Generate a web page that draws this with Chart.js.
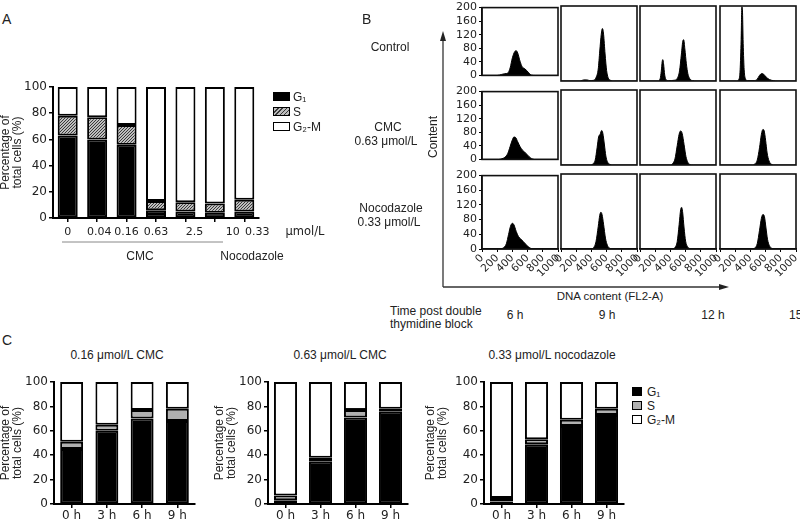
<!DOCTYPE html>
<html>
<head>
<meta charset="utf-8">
<script src="https://cdn.jsdelivr.net/npm/chart.js@4.4.0/dist/chart.umd.min.js"></script>
<style>
body { margin: 0; background: #fff; }
#page { position: relative; width: 800px; height: 523px; overflow: hidden; background: #fff;
        font-family: "Liberation Sans", Arial, sans-serif; color: #222; }
#page canvas { position: absolute; }
.t { position: absolute; white-space: nowrap; font-size: 12px; line-height: 1; }
.c { transform: translate(-50%, -50%); text-align: center; }
.box { position: absolute; border: 1.5px solid #000; box-sizing: border-box; }
</style>
</head>
<body>
<div id="page">
<svg width="800" height="523" style="position:absolute;left:0;top:0">
  <line x1="62" y1="242" x2="223" y2="242" stroke="#888" stroke-width="1"/>
  <line x1="443" y1="287" x2="443" y2="38" stroke="#333" stroke-width="1.3"/>
  <polygon points="443,31 440,41 446,41" fill="#222"/>
  <line x1="443" y1="287" x2="721" y2="287" stroke="#333" stroke-width="1.3"/>
  <polygon points="729,287 719,284 719,290" fill="#222"/>
</svg>
</div>
<script>
// ---- panel A: cell cycle distribution vs dose ----
var doseLabels = ['0', '0.04', '0.16', '0.63', '2.5', '10', '0.33'];
var doseG1  = [63, 60, 56, 6, 5, 4, 5];
var doseS   = [15, 17, 15, 7, 7, 7, 9];
var doseG2M = [22, 23, 29, 87, 88, 89, 86];

// ---- panel C: time course ----
var timeLabels = ['0 h', '3 h', '6 h', '9 h'];
var cmc016G1  = [45, 60, 70, 68];
var cmc016S   = [6, 5, 7, 10];
var cmc016G2M = [49, 35, 23, 22];
var cmc063G1  = [3, 35, 71, 76];
var cmc063S   = [4, 3, 6, 2];
var cmc063G2M = [93, 62, 23, 22];
var nocG1  = [2, 49, 64, 73];
var nocS   = [3, 4, 5, 5];
var nocG2M = [95, 47, 31, 22];

// ---- panel B: DNA content histograms [FL2-A, count] ----
var ctrl6h  = [[0,0],[200,0],[260,3],[300,5],[340,7],[370,22],[400,52],[430,70],[450,73],[470,66],[500,42],[530,25],[560,20],[590,14],[620,6],[650,1],[700,0],[1000,0]];
var ctrl9h  = [[0,0],[250,0],[300,3],[340,3],[380,1],[430,2],[460,9],[490,32],[510,80],[530,125],[545,140],[560,125],[580,72],[600,28],[620,9],[650,2],[700,0],[1000,0]];
var ctrl12h = [[0,0],[240,0],[265,6],[280,26],[292,52],[300,57],[310,46],[325,16],[345,3],[380,1],[450,2],[490,7],[520,27],[545,72],[565,108],[575,110],[590,86],[610,46],[630,19],[655,6],[690,1],[750,0],[1000,0]];
var ctrl15h = [[0,0],[220,0],[250,5],[265,30],[278,110],[288,198],[295,190],[305,100],[318,30],[335,6],[360,1],[450,1],[490,5],[520,15],[550,20],[575,18],[610,10],[650,4],[700,1],[750,0],[1000,0]];
var cmc6h   = [[0,0],[220,0],[260,2],[300,6],[340,18],[370,38],[400,58],[420,66],[440,65],[470,52],[500,38],[530,28],[560,22],[590,15],[620,8],[650,3],[690,0],[1000,0]];
var cmc9h   = [[0,0],[380,0],[420,3],[450,13],[475,46],[495,75],[515,82],[535,92],[550,85],[570,56],[590,24],[610,9],[640,2],[680,0],[1000,0]];
var cmc12h  = [[0,0],[400,0],[430,4],[460,16],[490,52],[515,82],[535,91],[555,84],[580,54],[605,22],[630,7],[660,1],[700,0],[1000,0]];
var cmc15h  = [[0,0],[430,0],[460,3],[490,13],[520,46],[545,82],[565,95],[580,92],[600,66],[620,32],[645,11],[670,3],[700,0],[1000,0]];
var noc6h   = [[0,0],[240,0],[280,3],[320,14],[350,40],[375,62],[400,70],[420,66],[450,48],[480,34],[510,27],[540,21],[570,14],[600,8],[630,3],[670,0],[1000,0]];
var noc9h   = [[0,0],[400,0],[430,4],[460,19],[490,60],[510,90],[525,98],[540,92],[560,66],[585,29],[610,10],[640,2],[680,0],[1000,0]];
var noc12h  = [[0,0],[430,0],[460,4],[490,20],[515,65],[535,105],[548,111],[560,100],[580,56],[600,21],[625,6],[660,1],[700,0],[1000,0]];
var noc15h  = [[0,0],[430,0],[460,3],[490,14],[520,50],[545,82],[565,92],[585,86],[605,56],[625,26],[650,9],[680,2],[710,0],[1000,0]];

var page = document.getElementById('page');
var numFont = { family: 'DejaVu Sans', size: 12 };
var txtFont = { family: 'Liberation Sans', size: 12, lineHeight: 1.0 };

function text(str, x, y, center, size) {
    var d = document.createElement('div');
    d.className = center ? 't c' : 't';
    d.textContent = str;
    d.style.left = x + 'px';
    d.style.top = y + 'px';
    if (size) d.style.fontSize = size + 'px';
    page.appendChild(d);
    return d;
}

function legendBox(x, y, w, h, bg) {
    var b = document.createElement('div');
    b.className = 'box';
    b.style.left = x + 'px'; b.style.top = y + 'px';
    b.style.width = w + 'px'; b.style.height = h + 'px';
    b.style.background = bg;
    page.appendChild(b);
}

function newCanvas(left, top, w, h) {
    var c = document.createElement('canvas');
    c.width = w; c.height = h;
    c.style.left = left + 'px'; c.style.top = top + 'px';
    c.style.width = w + 'px'; c.style.height = h + 'px';
    page.appendChild(c);
    return c;
}

function makeHatch() {
    var p = document.createElement('canvas');
    p.width = 3; p.height = 3;
    var c = p.getContext('2d');
    c.fillStyle = '#bdbdbd';
    c.fillRect(0, 0, 3, 3);
    c.strokeStyle = '#3a3a3a';
    c.lineWidth = 1;
    c.beginPath();
    c.moveTo(0, 3); c.lineTo(3, 0);
    c.moveTo(-1, 1); c.lineTo(1, -1);
    c.moveTo(2, 4); c.lineTo(4, 2);
    c.stroke();
    return c.createPattern(p, 'repeat');
}

// draws category labels under the axis, nudged like in the figure
var shiftedLabels = {
    id: 'shiftedLabels',
    afterDraw: function (chart, args, opts) {
        if (!opts.nudge) return;
        var ctx = chart.ctx, x = chart.scales.x;
        ctx.save();
        ctx.font = '11px "DejaVu Sans"';
        ctx.fillStyle = '#222';
        ctx.textAlign = 'center';
        ctx.textBaseline = 'middle';
        chart.data.labels.forEach(function (l, i) {
            ctx.fillText(l, x.getPixelForValue(i) + opts.nudge[i], chart.chartArea.bottom + 14);
        });
        ctx.restore();
    }
};

var framePlugin = {
    id: 'frame',
    afterDatasetsDraw: function (chart, args, opts) {
        if (!opts.on) return;
        var a = chart.chartArea, c = chart.ctx;
        c.save();
        c.strokeStyle = '#111';
        c.lineWidth = 1.6;
        c.strokeRect(a.left, a.top, a.right - a.left, a.bottom - a.top);
        c.restore();
    }
};
Chart.register(shiftedLabels, framePlugin);

function phaseDatasets(g1, s, g2m, sFill, barPct) {
    var base = { borderColor: '#000', borderWidth: 2, borderSkipped: false,
                 barPercentage: barPct, categoryPercentage: 1 };
    return [
        Object.assign({ label: 'G\u2081', data: g1, backgroundColor: '#000' }, base),
        Object.assign({ label: 'S', data: s, backgroundColor: sFill }, base),
        Object.assign({ label: 'G\u2082-M', data: g2m, backgroundColor: '#fff' }, base)
    ];
}

function phaseChart(canvas, labels, datasets, yWidth, xHeight, padTop, padRight, nudge) {
    return new Chart(canvas.getContext('2d'), {
        type: 'bar',
        data: { labels: labels, datasets: datasets },
        options: {
            responsive: false,
            animation: false,
            layout: { padding: { top: padTop, right: padRight, left: 0, bottom: 0 } },
            plugins: { legend: { display: false }, tooltip: { enabled: false },
                       shiftedLabels: { nudge: nudge } },
            scales: {
                x: {
                    stacked: true,
                    grid: { display: true, drawOnChartArea: false, offset: false, tickLength: 4, color: '#000', lineWidth: 1.5 },
                    border: { color: '#000', width: 2 },
                    ticks: { display: !nudge, font: numFont, color: '#222', padding: 1, maxRotation: 0 },
                    afterFit: function (s) { s.height = xHeight; }
                },
                y: {
                    stacked: true, min: 0, max: 100,
                    grid: { display: true, drawOnChartArea: false, tickLength: 4, color: '#000', lineWidth: 1.5 },
                    border: { color: '#000', width: 2 },
                    ticks: { stepSize: 20, font: numFont, color: '#222', padding: 2 },
                    title: { display: true, text: ['Percentage of', 'total cells (%)'], font: txtFont, color: '#222', padding: { top: 0, bottom: 2 } },
                    afterFit: function (s) { s.width = yWidth; }
                }
            }
        }
    });
}

// ---------- Panel A ----------
text('A', 2, 12, false, 14);
var cA = newCanvas(0, 75, 290, 180);
phaseChart(cA, doseLabels, phaseDatasets(doseG1, doseS, doseG2M, makeHatch(), 0.68),
           53, 180 - 143, 12, 31, [0, 2, 0, 0, 9, 18, 13]);
text('\u03bcmol/L', 305, 232, true, 11.5).style.fontFamily = 'DejaVu Sans';
text('CMC', 140, 256, true);
text('Nocodazole', 252, 256, true);
legendBox(273, 92, 17, 9, '#000');
legendBox(273, 107, 17, 9, 'repeating-linear-gradient(-45deg, #3a3a3a 0 1px, #bdbdbd 1px 3px)');
legendBox(273, 122, 17, 9, '#fff');
text('G\u2081', 293, 91);
text('S', 293, 106);
text('G\u2082-M', 293, 121);

// ---------- Panel B ----------
text('B', 362, 12, false, 14);
text('Control', 390, 47, true);
text('CMC', 388, 127, true);
text('0.63 \u03bcmol/L', 386, 141, true);
text('Nocodazole', 391, 208, true);
text('0.33 \u03bcmol/L', 389, 222, true);
var contentLbl = text('Content', 433, 137, true);
contentLbl.style.transform = 'translate(-50%,-50%) rotate(-90deg)';
text('DNA content (FL2-A)', 610, 297, true, 11.5);
text('Time post double', 390, 305, false, 12);
text('thymidine block', 390, 318, false, 12);
text('6 h', 515, 315, true);
text('9 h', 607, 315, true);
text('12 h', 713, 315, true);
text('15 h', 789, 309, false);

var colLeft = [482, 561, 640, 720];
var rowTop = [6, 90, 174];
var panelW = 76, panelH = 75;
var histGrid = [
    [ctrl6h, ctrl9h, ctrl12h, ctrl15h],
    [cmc6h, cmc9h, cmc12h, cmc15h],
    [noc6h, noc9h, noc12h, noc15h]
];

function histChart(pts, row, col) {
    var showY = col === 0, showX = row === 2;
    var padL = showY ? 30 : 10, padR = 10, padT = 7, padB = showX ? 34 : 3;
    var w = panelW + padL + padR, h = panelH + padT + padB;
    var cv = newCanvas(colLeft[col] - padL, rowTop[row] - padT, w, h);
    new Chart(cv.getContext('2d'), {
        type: 'line',
        data: { datasets: [{
            data: pts.map(function (p) { return { x: p[0], y: p[1] }; }),
            borderColor: '#000', backgroundColor: '#000', borderWidth: 1,
            fill: 'origin', pointRadius: 0, cubicInterpolationMode: 'monotone'
        }] },
        options: {
            responsive: false,
            animation: false,
            layout: { padding: { left: showY ? 0 : padL, right: padR, top: padT, bottom: showX ? 0 : padB } },
            plugins: { legend: { display: false }, tooltip: { enabled: false }, frame: { on: true } },
            scales: {
                x: {
                    type: 'linear', min: 0, max: 1000, display: showX,
                    grid: { display: true, drawOnChartArea: false, tickLength: 3, color: '#000' },
                    border: { color: '#000', width: 1.5 },
                    ticks: { stepSize: 200, minRotation: 45, maxRotation: 45, autoSkip: false,
                             callback: function (v) { return String(v); },
                             font: { family: 'DejaVu Sans', size: 10.5 }, color: '#222', padding: 0 },
                    afterFit: function (s) { s.height = showX ? padB : 0; }
                },
                y: {
                    min: 0, max: 200, display: showY,
                    grid: { display: true, drawOnChartArea: false, tickLength: 3, color: '#000' },
                    border: { color: '#000', width: 1.5 },
                    ticks: { stepSize: 40, autoSkip: false, font: { family: 'DejaVu Sans', size: 11 }, color: '#222', padding: 2 },
                    afterFit: function (s) { s.width = showY ? padL : 0; }
                }
            }
        }
    });
}
histGrid.forEach(function (rowData, r) {
    rowData.forEach(function (pts, c) { histChart(pts, r, c); });
});

// ---------- Panel C ----------
text('C', 2, 333, false, 14);
var sGray = '#b0b0b0';
var c1 = newCanvas(0, 370, 201, 155);
phaseChart(c1, timeLabels, phaseDatasets(cmc016G1, cmc016S, cmc016G2M, sGray, 0.65), 54, 155 - 134, 12, 6);
var c2 = newCanvas(214, 370, 201, 155);
phaseChart(c2, timeLabels, phaseDatasets(cmc063G1, cmc063S, cmc063G2M, sGray, 0.66), 54, 155 - 134, 12, 7);
var c3 = newCanvas(425, 370, 205, 155);
phaseChart(c3, timeLabels, phaseDatasets(nocG1, nocS, nocG2M, sGray, 0.66), 59, 155 - 134, 12, 6);
text('0.16 \u03bcmol/L CMC', 117, 355, true);
text('0.63 \u03bcmol/L CMC', 340, 355, true);
text('0.33 \u03bcmol/L nocodazole', 552, 355, true);
legendBox(632, 387, 10, 9, '#000');
legendBox(632, 401, 10, 9, sGray);
legendBox(632, 415, 10, 9, '#fff');
text('G\u2081', 647, 386);
text('S', 647, 400);
text('G\u2082-M', 647, 414);
</script>
</body>
</html>
